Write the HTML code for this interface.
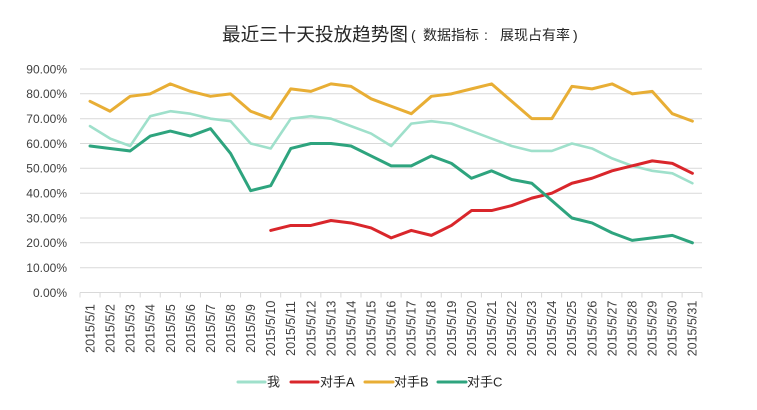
<!DOCTYPE html>
<html><head><meta charset="utf-8"><style>
html,body{margin:0;padding:0;background:#fff;}
svg{display:block;}
text{font-family:"Liberation Sans","Noto Sans CJK SC",sans-serif;}
</style></head><body>
<svg width="757" height="410" viewBox="0 0 757 410" xmlns="http://www.w3.org/2000/svg">
<rect width="757" height="410" fill="#fff"/>
<!-- title -->
<text x="222" y="41" font-size="18.6" fill="#262626" font-family="Liberation Sans, Noto Sans CJK SC, sans-serif">最近三十天投放趋势图</text>
<g font-size="14" fill="#262626">
<text x="411" y="40">(</text>
<text x="423" y="40">数据指标</text>
<text x="484" y="40">:</text>
<text x="500" y="40">展现占有率</text>
<text x="573" y="40">)</text>
</g>
<!-- gridlines -->
<g stroke="#d9d9d9" stroke-width="1">
<line x1="80" x2="702" y1="69" y2="69"/>
<line x1="80" x2="702" y1="93.8" y2="93.8"/>
<line x1="80" x2="702" y1="118.7" y2="118.7"/>
<line x1="80" x2="702" y1="143.5" y2="143.5"/>
<line x1="80" x2="702" y1="168.3" y2="168.3"/>
<line x1="80" x2="702" y1="193.2" y2="193.2"/>
<line x1="80" x2="702" y1="218" y2="218"/>
<line x1="80" x2="702" y1="242.8" y2="242.8"/>
<line x1="80" x2="702" y1="267.7" y2="267.7"/>
<line x1="80" x2="702" y1="292.5" y2="292.5"/>
</g>
<!-- ticks -->
<g stroke="#d9d9d9" stroke-width="1">
<path d="M80 292.5v5M100.07 292.5v5M120.14 292.5v5M140.21 292.5v5M160.28 292.5v5M180.35 292.5v5M200.42 292.5v5M220.49 292.5v5M240.56 292.5v5M260.63 292.5v5M280.7 292.5v5M300.77 292.5v5M320.84 292.5v5M340.91 292.5v5M360.98 292.5v5M381.05 292.5v5M401.12 292.5v5M421.19 292.5v5M441.26 292.5v5M461.33 292.5v5M481.4 292.5v5M501.47 292.5v5M521.54 292.5v5M541.61 292.5v5M561.68 292.5v5M581.75 292.5v5M601.82 292.5v5M621.89 292.5v5M641.96 292.5v5M662.03 292.5v5M682.1 292.5v5M702 292.5v5"/>
</g>
<!-- y labels -->
<g font-size="12" fill="#404040" text-anchor="end">
<text x="67" y="73.3">90.00%</text>
<text x="67" y="98.1">80.00%</text>
<text x="67" y="123">70.00%</text>
<text x="67" y="147.8">60.00%</text>
<text x="67" y="172.6">50.00%</text>
<text x="67" y="197.5">40.00%</text>
<text x="67" y="222.3">30.00%</text>
<text x="67" y="247.1">20.00%</text>
<text x="67" y="272">10.00%</text>
<text x="67" y="296.8">0.00%</text>
</g>
<!-- x labels -->
<g font-size="12.5" fill="#404040" text-anchor="middle">
<text transform="translate(94.5,328.5) rotate(-90)">2015/5/1</text>
<text transform="translate(114.57,328.5) rotate(-90)">2015/5/2</text>
<text transform="translate(134.64,328.5) rotate(-90)">2015/5/3</text>
<text transform="translate(154.71,328.5) rotate(-90)">2015/5/4</text>
<text transform="translate(174.78,328.5) rotate(-90)">2015/5/5</text>
<text transform="translate(194.85,328.5) rotate(-90)">2015/5/6</text>
<text transform="translate(214.92,328.5) rotate(-90)">2015/5/7</text>
<text transform="translate(234.99,328.5) rotate(-90)">2015/5/8</text>
<text transform="translate(255.06,328.5) rotate(-90)">2015/5/9</text>
<text transform="translate(275.13,328.5) rotate(-90)">2015/5/10</text>
<text transform="translate(295.2,328.5) rotate(-90)">2015/5/11</text>
<text transform="translate(315.27,328.5) rotate(-90)">2015/5/12</text>
<text transform="translate(335.34,328.5) rotate(-90)">2015/5/13</text>
<text transform="translate(355.41,328.5) rotate(-90)">2015/5/14</text>
<text transform="translate(375.48,328.5) rotate(-90)">2015/5/15</text>
<text transform="translate(395.55,328.5) rotate(-90)">2015/5/16</text>
<text transform="translate(415.62,328.5) rotate(-90)">2015/5/17</text>
<text transform="translate(435.69,328.5) rotate(-90)">2015/5/18</text>
<text transform="translate(455.76,328.5) rotate(-90)">2015/5/19</text>
<text transform="translate(475.83,328.5) rotate(-90)">2015/5/20</text>
<text transform="translate(495.9,328.5) rotate(-90)">2015/5/21</text>
<text transform="translate(515.97,328.5) rotate(-90)">2015/5/22</text>
<text transform="translate(536.04,328.5) rotate(-90)">2015/5/23</text>
<text transform="translate(556.11,328.5) rotate(-90)">2015/5/24</text>
<text transform="translate(576.18,328.5) rotate(-90)">2015/5/25</text>
<text transform="translate(596.25,328.5) rotate(-90)">2015/5/26</text>
<text transform="translate(616.32,328.5) rotate(-90)">2015/5/27</text>
<text transform="translate(636.39,328.5) rotate(-90)">2015/5/28</text>
<text transform="translate(656.46,328.5) rotate(-90)">2015/5/29</text>
<text transform="translate(676.53,328.5) rotate(-90)">2015/5/30</text>
<text transform="translate(696.6,328.5) rotate(-90)">2015/5/31</text>
</g>
<!-- series -->
<g transform="translate(90,292.5) scale(20.08,-2.4833)" fill="none" stroke-linejoin="round" stroke-linecap="round">
<polyline vector-effect="non-scaling-stroke" stroke="#9fe0cb" stroke-width="2.6" points="0,67 1,62 2,59 3,71 4,73 5,72 6,70 7,69 8,60 9,58 10,70 11,71 12,70 13,67 14,64 15,59 16,68 17,69 18,68 19,65 20,62 21,59 22,57 23,57 24,60 25,58 26,54 27,51 28,49 29,48 30,44"/>
<polyline vector-effect="non-scaling-stroke" stroke="#d9262b" stroke-width="3" points="9,25 10,27 11,27 12,29 13,28 14,26 15,22 16,25 17,23 18,27 19,33 20,33 21,35 22,38 23,40 24,44 25,46 26,49 27,51 28,53 29,52 30,48"/>
<polyline vector-effect="non-scaling-stroke" stroke="#e8ae35" stroke-width="3" points="0,77 1,73 2,79 3,80 4,84 5,81 6,79 7,80 8,73 9,70 10,82 11,81 12,84 13,83 14,78 15,75 16,72 17,79 18,80 19,82 20,84 21,77 22,70 23,70 24,83 25,82 26,84 27,80 28,81 29,72 30,69"/>
<polyline vector-effect="non-scaling-stroke" stroke="#2ea47e" stroke-width="3" points="0,59 1,58 2,57 3,63 4,65 5,63 6,66 7,56 8,41 9,43 10,58 11,60 12,60 13,59 14,55 15,51 16,51 17,55 18,52 19,46 20,49 21,45.5 22,44 23,37 24,30 25,28 26,24 27,21 28,22 29,23 30,20"/>
</g>
<!-- legend -->
<g stroke-width="3" stroke-linecap="round">
<line x1="238" x2="265" y1="382" y2="382" stroke="#9fe0cb"/>
<line x1="291" x2="318" y1="382" y2="382" stroke="#d9262b"/>
<line x1="365" x2="393" y1="382" y2="382" stroke="#e8ae35"/>
<line x1="438" x2="466" y1="382" y2="382" stroke="#2ea47e"/>
</g>
<g font-size="13" fill="#262626">
<text x="267" y="386.5">我</text>
<text x="320" y="386.5">对手A</text>
<text x="394" y="386.5">对手B</text>
<text x="467" y="386.5">对手C</text>
</g>
</svg>
</body></html>
